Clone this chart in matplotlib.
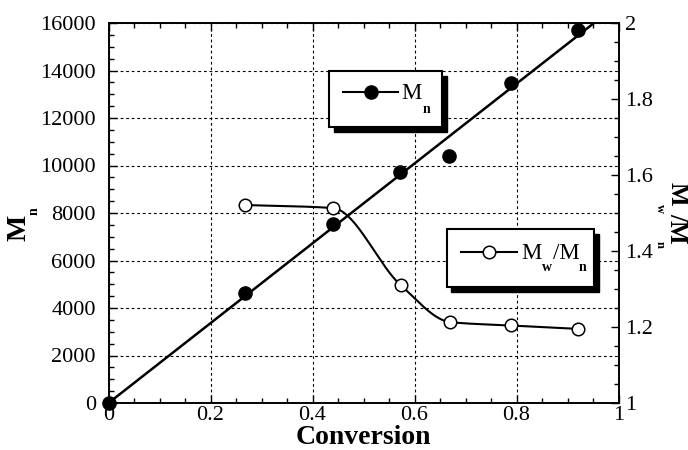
import numpy as np
import matplotlib
matplotlib.use("Agg")
import matplotlib.pyplot as plt
from matplotlib.patches import Rectangle
from matplotlib.ticker import MultipleLocator

# ---- data ----
conv_mn = [0.0, 0.268, 0.440, 0.572, 0.668, 0.789, 0.920]
mn = [0, 4630, 7537, 9726, 10400, 13474, 15705]
conv_pdi = [0.268, 0.440, 0.573, 0.670, 0.789, 0.921]
pdi = [1.521, 1.513, 1.310, 1.213, 1.204, 1.195]
x_ticks = [0, 0.2, 0.4, 0.6, 0.8, 1.0]
x_ticklabels = ['0', '0.2', '0.4', '0.6', '0.8', '1']
pdi_ticks = [1, 1.2, 1.4, 1.6, 1.8, 2]
pdi_ticklabels = ['1', '1.2', '1.4', '1.6', '1.8', '2']

plt.rcParams['font.family'] = ['Liberation Serif', 'DejaVu Serif']

W, H = 688, 450
fig = plt.figure(figsize=(W/100, H/100), dpi=100)
ax = fig.add_axes([108.5/W, 47/H, 510/W, 380/H])
ax2 = ax.twinx()

# fitted line through origin
x = np.array(conv_mn); y = np.array(mn)
slope = np.sum(x*y)/np.sum(x*x)
xl = np.linspace(0, 1, 50)
ax.plot(xl, slope*xl, color='black', lw=1.8, zorder=3)
ax.plot(conv_mn, mn, 'o', color='black', ms=9.5, zorder=4, clip_on=False)

# smooth monotone curve (PCHIP) through PDI points
def pchip(xk, yk, xs):
    xk = np.asarray(xk, float); yk = np.asarray(yk, float)
    h = np.diff(xk); d = np.diff(yk)/h
    n = len(xk); m = np.zeros(n)
    for k in range(1, n-1):
        if d[k-1]*d[k] <= 0:
            m[k] = 0
        else:
            w1 = 2*h[k]+h[k-1]; w2 = h[k]+2*h[k-1]
            m[k] = (w1+w2)/(w1/d[k-1]+w2/d[k])
    m[0] = d[0]; m[-1] = d[-1]
    out = np.empty_like(xs)
    for i, xv in enumerate(xs):
        k = min(max(np.searchsorted(xk, xv)-1, 0), n-2)
        t = (xv-xk[k])/h[k]
        h00 = 2*t**3-3*t**2+1; h10 = t**3-2*t**2+t
        h01 = -2*t**3+3*t**2; h11 = t**3-t**2
        out[i] = h00*yk[k]+h10*h[k]*m[k]+h01*yk[k+1]+h11*h[k]*m[k+1]
    return out

xs = np.linspace(conv_pdi[0], conv_pdi[-1], 300)
ax2.plot(xs, pchip(conv_pdi, pdi, xs), color='black', lw=1.5, zorder=3)
ax2.plot(conv_pdi, pdi, 'o', mfc='white', mec='black', mew=1.1, ms=9, zorder=4)

ax.set_xlim(0, 1)
ax.set_ylim(0, 16000)
ax2.set_ylim(1, 2)
ax.xaxis.set_minor_locator(MultipleLocator(0.05))
ax.yaxis.set_major_locator(MultipleLocator(2000))
ax.yaxis.set_minor_locator(MultipleLocator(500))
ax2.yaxis.set_minor_locator(MultipleLocator(0.05))
ax.set_xticks(x_ticks)
ax.set_xticklabels(x_ticklabels)
ax2.set_yticks(pdi_ticks)
ax2.set_yticklabels(pdi_ticklabels)

ax.tick_params(which='both', direction='in', top=True, right=False, labelsize=16, width=1, colors='black')
ax.tick_params(which='major', length=6)
ax.tick_params(which='minor', length=3.5)
ax.tick_params(axis='y', pad=9)
ax.tick_params(axis='x', pad=2.5)
ax2.tick_params(which='both', direction='in', labelsize=16, width=1, pad=5)
ax2.tick_params(which='major', length=6)
ax2.tick_params(which='minor', length=3.5)

ax.grid(True, which='major', linestyle=(0, (2.5, 2.5)), color='black', lw=0.8)
for sp in list(ax.spines.values()) + list(ax2.spines.values()):
    sp.set_linewidth(1.2)

def P(px, py):
    return px/W, 1 - py/H

# x label
fig.text(*P(363, 444), 'Conversion', fontsize=20, fontweight='bold', ha='center', va='baseline')

# left y label  M_n (rotated)
fig.text(*P(19, 228), 'M', fontsize=20, fontweight='bold', rotation=90, ha='center', va='center')
fig.text(*P(34, 211), 'n', fontsize=10, fontweight='bold', rotation=90, ha='center', va='center')

# right y label  M_w/M_n (rotated -90)
fig.text(*P(677, 194), 'M', fontsize=18, fontweight='bold', rotation=-90, ha='center', va='center')
fig.text(*P(660, 209), 'w', fontsize=9, fontweight='bold', rotation=-90, ha='center', va='center')
fig.text(*P(677, 228), '/M', fontsize=18, fontweight='bold', rotation=-90, ha='center', va='center')
fig.text(*P(660, 244), 'n', fontsize=9, fontweight='bold', rotation=-90, ha='center', va='center')

# custom legend boxes with shadows
def fx(px): return (px-108.5)/510
def fy(py): return (403-py)/380

def legend_box(px0, py0, px1, py1, lx0, lx1, ly, mx, filled):
    tr = ax.transAxes
    x0, x1, y0, y1 = fx(px0), fx(px1), fy(py1), fy(py0)
    sh_dx, sh_dy = 4.5/510, 4.5/380
    ax.add_patch(Rectangle((x0+sh_dx, y0-sh_dy), x1-x0, y1-y0, transform=tr,
                           facecolor='black', edgecolor='black', zorder=6, clip_on=False))
    ax.add_patch(Rectangle((x0, y0), x1-x0, y1-y0, transform=tr,
                           facecolor='white', edgecolor='black', lw=1.5, zorder=7, clip_on=False))
    ax.plot([fx(lx0), fx(lx1)], [fy(ly), fy(ly)], color='black', lw=1.5, transform=tr, zorder=8)
    if filled:
        ax.plot([fx(mx)], [fy(ly)], 'o', color='black', ms=9.5, transform=tr, zorder=9)
    else:
        ax.plot([fx(mx)], [fy(ly)], 'o', mfc='white', mec='black', mew=1.1, ms=9, transform=tr, zorder=9)

legend_box(329, 71, 442, 127, 343, 398, 92, 371, True)
fig.text(*P(401, 99), 'M', fontsize=16.5, ha='left', va='baseline')
fig.text(*P(423, 113), 'n', fontsize=10, fontweight='bold', ha='left', va='baseline')

legend_box(447, 229, 594, 287, 461, 517, 252, 489, False)
fig.text(*P(521, 259), 'M', fontsize=16.5, ha='left', va='baseline')
fig.text(*P(542, 271), 'w', fontsize=10, fontweight='bold', ha='left', va='baseline')
fig.text(*P(553, 259), '/M', fontsize=16.5, ha='left', va='baseline')
fig.text(*P(579, 271), 'n', fontsize=10, fontweight='bold', ha='left', va='baseline')

fig.savefig('out.png', dpi=100)
